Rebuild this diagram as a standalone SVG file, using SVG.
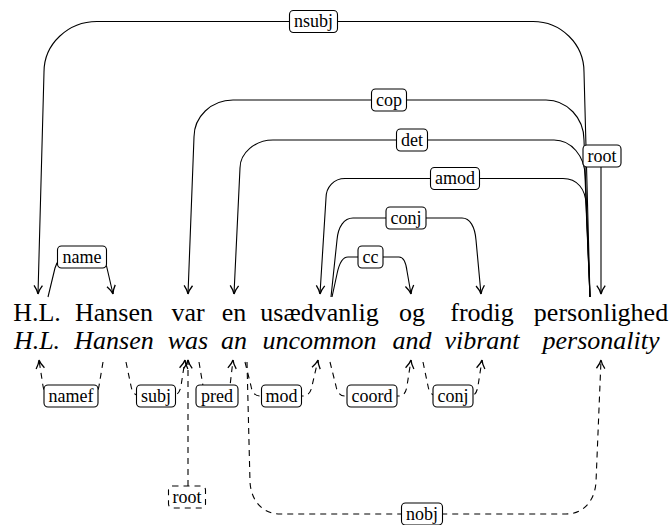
<svg xmlns="http://www.w3.org/2000/svg" width="672" height="525" viewBox="0 0 672 525">
<style>
.w{font-family:"Liberation Serif","Times New Roman",serif;font-size:26px;fill:#000;text-anchor:middle}
.i{font-style:italic}
.e{fill:none;stroke:#000;stroke-width:1.1}
.d{stroke-dasharray:6 5}
.lb rect{fill:#fff;stroke:#000;stroke-width:1.1}
.lb text{font-family:"Liberation Serif","Times New Roman",serif;font-size:18px;fill:#000;text-anchor:middle}
.dr{stroke-dasharray:6 5}
</style>
<defs>
<marker id="arr" markerUnits="userSpaceOnUse" markerWidth="12" markerHeight="12" viewBox="-8 -5 9 10" refX="0" refY="0" orient="auto">
<path d="M -7 -3.5 Q -3 -0.6 0 0 Q -3 0.6 -7 3.5" fill="none" stroke="#000" stroke-width="1.1" stroke-dasharray="none"/>
</marker>
</defs>
<rect width="672" height="525" fill="#fff"/>
<g id="connectors">
<path class="e" marker-end="url(#arr)" d="M 590 297 L 584 72 C 584 44 561 21.5 533 21.5 L 97 21.5 C 68 21.5 44 44 44 72 L 38 294"/>
<path class="e" marker-end="url(#arr)" d="M 590 297 L 584 140 C 584 118 567 100 546 100 L 233 100 C 211 100 194 117 194 137 L 188 294"/>
<path class="e" marker-end="url(#arr)" d="M 590 297 L 585 176 C 585 156 571 140 554 140 L 273 140 C 255 140 240 153 240 168 L 234 294"/>
<path class="e" marker-end="url(#arr)" d="M 590 297 L 586 205 C 586 189 577 178.5 563 178.5 L 345 178.5 C 334 178.5 326 187 326 198 L 320 294"/>
<path class="e" marker-end="url(#arr)" d="M 331 297 L 337 240 C 338 227 344 218 353 218 L 462 218 C 470 218 475 227 476 240 L 481 294"/>
<path class="e" marker-end="url(#arr)" d="M 332 297 L 337 274 C 339 264 342 257 348 257 L 399 257 C 404 257 406 263 407 271 L 411 294"/>
<path class="e" marker-end="url(#arr)" d="M 48 297 L 55 268 C 57 261 60 257 66 257 L 99 257 C 104 257 106 262 107 268 L 113 294"/>
<path class="e" marker-end="url(#arr)" d="M 601 167 L 601 294"/>
<path class="e d" marker-end="url(#arr)" d="M 103 362 L 99 386 C 98 392 95 396 90 396 L 52 396 C 47 396 44 392 43 386 L 39 360"/>
<path class="e d" marker-end="url(#arr)" d="M 126 362 L 131 386 C 132 392 135 396 140 396 L 172 396 C 177 396 180 392 181 386 L 185 360"/>
<path class="e d" marker-end="url(#arr)" d="M 188 486 L 188 360"/>
<path class="e d" marker-end="url(#arr)" d="M 199 362 L 203 386 C 204 392 207 396 212 396 L 222 396 C 227 396 229 392 230 386 L 233 360"/>
<path class="e d" marker-end="url(#arr)" d="M 245 362 L 251 386 C 252 392 255 396 260 396 L 303 396 C 308 396 311 392 312 386 L 318 360"/>
<path class="e d" marker-end="url(#arr)" d="M 330 362 L 336 386 C 337 392 340 396 345 396 L 399 396 C 404 396 406 392 407 386 L 411 360"/>
<path class="e d" marker-end="url(#arr)" d="M 423 362 L 428 386 C 429 392 432 396 437 396 L 470 396 C 475 396 477 392 478 386 L 482 360"/>
<path class="e d" marker-end="url(#arr)" d="M 247 362 L 250 482 C 251 500 262 514 280 514 L 566 514 C 584 514 595 500 596 482 L 601 360"/>
</g>
<g id="labels" class="lb">
<g id="l-nsubj"><rect x="289.5" y="10.5" width="48" height="22" rx="4"/><text x="313.5" y="27">nsubj</text></g>
<g id="l-cop"><rect x="371.5" y="89" width="35" height="22" rx="4"/><text x="389" y="105.5">cop</text></g>
<g id="l-det"><rect x="396.5" y="129" width="31" height="22" rx="4"/><text x="412" y="145.5">det</text></g>
<g id="l-amod"><rect x="430.5" y="167.5" width="49" height="22" rx="4"/><text x="455" y="184">amod</text></g>
<g id="l-conj"><rect x="386" y="207" width="40" height="22" rx="4"/><text x="406" y="223.5">conj</text></g>
<g id="l-cc"><rect x="358" y="246" width="25" height="22" rx="4"/><text x="370.5" y="262.5">cc</text></g>
<g id="l-name"><rect x="57.5" y="246" width="49" height="22" rx="4"/><text x="82" y="262.5">name</text></g>
<g id="l-root"><rect x="583" y="145" width="38" height="22" rx="4"/><text x="602" y="161.5">root</text></g>
<g id="l-namef"><rect x="44" y="385" width="54" height="22" rx="4"/><text x="71" y="401.5">namef</text></g>
<g id="l-subj"><rect x="136.5" y="385" width="39" height="22" rx="4"/><text x="156" y="401.5">subj</text></g>
<g id="l-pred"><rect x="196" y="385" width="42" height="22" rx="4"/><text x="217" y="401.5">pred</text></g>
<g id="l-mod"><rect x="261.5" y="385" width="40" height="22" rx="4"/><text x="281.5" y="401.5">mod</text></g>
<g id="l-coord"><rect x="347" y="385" width="50" height="22" rx="4"/><text x="372" y="401.5">coord</text></g>
<g id="l-conj2"><rect x="433" y="385" width="40" height="22" rx="4"/><text x="453" y="401.5">conj</text></g>
<g id="l-nobj"><rect x="401.5" y="503" width="41" height="22" rx="4"/><text x="422" y="519.5">nobj</text></g>
<g id="l-root2"><rect class="dr" x="168.5" y="486" width="37" height="22" rx="4"/><text x="187" y="502.5">root</text></g>
</g>
<g id="w1"><text class="w" x="37" y="321">H.L.</text><text class="w i" x="37" y="349">H.L.</text></g>
<g id="w2"><text class="w" x="114" y="321">Hansen</text><text class="w i" x="114" y="349">Hansen</text></g>
<g id="w3"><text class="w" x="188" y="321">var</text><text class="w i" x="188" y="349">was</text></g>
<g id="w4"><text class="w" x="234" y="321">en</text><text class="w i" x="234" y="349">an</text></g>
<g id="w5"><text class="w" x="319.5" y="321">usædvanlig</text><text class="w i" x="319.5" y="349">uncommon</text></g>
<g id="w6"><text class="w" x="412" y="321">og</text><text class="w i" x="412" y="349">and</text></g>
<g id="w7"><text class="w" x="482" y="321">frodig</text><text class="w i" x="482" y="349">vibrant</text></g>
<g id="w8"><text class="w" x="601" y="321">personlighed</text><text class="w i" x="601" y="349">personality</text></g>
</svg>
